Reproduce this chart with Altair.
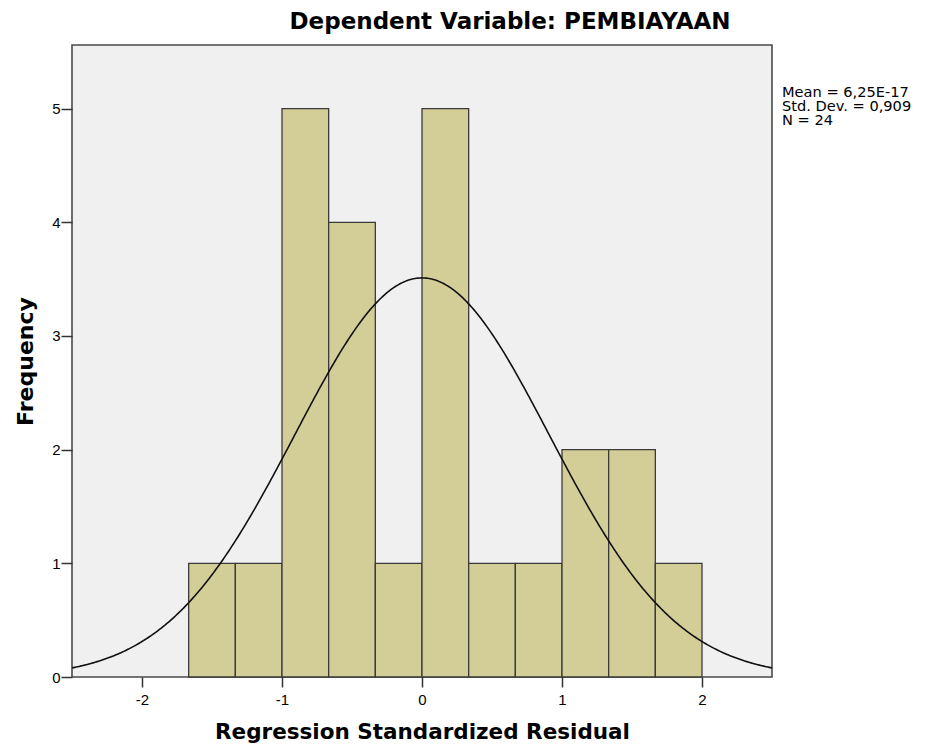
import altair as alt
import pandas as pd

# Histogram data
bin_edges = [-5/3, -4/3, -1.0, -2/3, -1/3, 0.0, 1/3, 2/3, 1.0, 4/3, 5/3, 2.0]
counts = [1, 1, 5, 4, 1, 5, 1, 1, 2, 2, 1]

# Summary statistics shown in the chart
mean_val = 6.25e-17
std_dev = 0.909
n_obs = 24
bin_width = 1/3

title_text = "Dependent Variable: PEMBIAYAAN"
stats_lines = ["Mean = 6,25E-17", "Std. Dev. = 0,909", "N = 24"]
x_ticks = [-2, -1, 0, 1, 2]
y_ticks = [0, 1, 2, 3, 4, 5]

bars_df = pd.DataFrame({
    "start": bin_edges[:-1],
    "end": bin_edges[1:],
    "count": counts,
})

TICK_FONT = "Liberation Sans"
BOLD_FONT = "DejaVu Sans"
W, H = 700, 632
XDOM = [-2.5, 2.5]
YDOM = [0, 5.56]

xscale = alt.Scale(domain=XDOM, nice=False, zero=False)
yscale = alt.Scale(domain=YDOM, nice=False)

bars = alt.Chart(bars_df).mark_rect(
    fill="#D3CE97", stroke="#3a3a3a", strokeWidth=1.3
).encode(
    x=alt.X("start:Q", scale=xscale,
            axis=alt.Axis(values=x_ticks, title="Regression Standardized Residual",
                          labelExpr="'' + datum.value",
                          grid=False, domain=False, tickSize=10, tickColor="#333",
                          tickWidth=1.5, labelFontSize=15, labelColor="#000",
                          labelFont=TICK_FONT, labelPadding=5, titleFont=BOLD_FONT,
                          titleFontSize=21.5, titleFontWeight="bold",
                          titleColor="#000", titlePadding=14)),
    x2="end:Q",
    y=alt.Y("count:Q", scale=yscale,
            axis=alt.Axis(values=y_ticks, title="Frequency", grid=False,
                          labelExpr="'' + datum.value",
                          domain=False, tickSize=11, tickColor="#333",
                          tickWidth=1.5, labelFontSize=15, labelColor="#000",
                          labelFont=TICK_FONT, labelPadding=1, titleFont=BOLD_FONT,
                          titleFontSize=22, titleFontWeight="bold",
                          titleColor="#000", titlePadding=14)),
    y2=alt.datum(0),
)

params_df = pd.DataFrame({"mean": [mean_val], "sd": [std_dev], "n": [n_obs], "bw": [bin_width]})

curve = alt.Chart(params_df).transform_calculate(
    xs="sequence(-2.5, 2.5001, 0.01)"
).transform_flatten(["xs"]).transform_calculate(
    dens="datum.n * datum.bw * exp(-0.5 * pow((datum.xs - datum.mean) / datum.sd, 2)) / (datum.sd * sqrt(2 * PI))"
).mark_line(color="#111", strokeWidth=1.6).encode(
    x=alt.X("xs:Q", scale=xscale),
    y=alt.Y("dens:Q", scale=yscale),
)

stats = alt.Chart(pd.DataFrame({"t": ["\n".join(stats_lines)]})).mark_text(
    align="left", baseline="alphabetic", font=BOLD_FONT, fontSize=14.6,
    lineHeight=14, color="#000", lineBreak="\n"
).encode(text="t:N", x=alt.value(710), y=alt.value(52))

title = alt.Chart(pd.DataFrame({"t": [title_text]})).mark_text(
    align="center", baseline="alphabetic", font=BOLD_FONT, fontSize=23,
    fontWeight="bold", color="#000"
).encode(text="t:N", x=alt.value(438), y=alt.value(-16))

chart = alt.layer(bars, curve, stats, title).properties(
    width=W, height=H,
    autosize=alt.AutoSizeParams(type="none"),
    padding={"left": 64, "top": 37, "right": 145, "bottom": 70},
    background="white",
).configure_view(
    fill="#F0F0F0", stroke="#4a4a4a", strokeWidth=1.6
)

chart.save("out.html", embed_options={"renderer": "svg", "actions": False})
